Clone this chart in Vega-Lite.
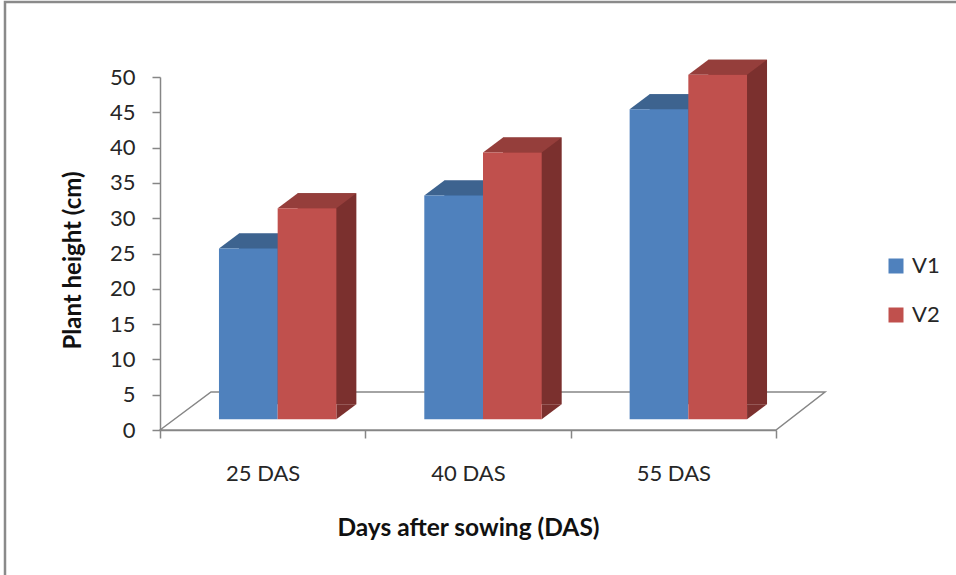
{"$schema":"https://vega.github.io/schema/vega-lite/v6.json","width":616,"height":353,"autosize":"none","padding":{"left":160,"top":77,"right":180,"bottom":145},"background":"white","data":{"values":[{"cat":"25 DAS","series":"V1","value":24.2},{"cat":"25 DAS","series":"V2","value":29.9},{"cat":"40 DAS","series":"V1","value":31.7},{"cat":"40 DAS","series":"V2","value":37.8},{"cat":"55 DAS","series":"V1","value":43.9},{"cat":"55 DAS","series":"V2","value":48.8}]},"config":{"view":{"stroke":null},"font":"Lato"},"encoding":{"x":{"field":"cat","type":"nominal","scale":{"domain":["25 DAS","40 DAS","55 DAS"],"paddingInner":0,"paddingOuter":0},"axis":{"title":"Days after sowing (DAS)","labelAngle":0,"tickBand":"extent","domainColor":"#868686","domainWidth":1.5,"tickColor":"#868686","tickWidth":1.5,"tickSize":8,"labelPadding":25,"labelFontSize":22,"labelColor":"#262626","labelFont":"Lato","titleFont":"Lato","titleFontSize":24.5,"titleFontWeight":"bold","titleColor":"#111111","titlePadding":32,"grid":false}},"y":{"field":"value","type":"quantitative","stack":null,"scale":{"domain":[0,50],"nice":false},"axis":{"title":"Plant height (cm)","titleY":183,"values":[0,5,10,15,20,25,30,35,40,45,50],"domainColor":"#868686","domainWidth":1.5,"tickColor":"#868686","tickWidth":1.5,"tickSize":8,"labelPadding":17,"labelFontSize":22,"labelColor":"#262626","labelFont":"Lato","titleFont":"Lato","titleFontSize":24,"titleFontWeight":"bold","titleColor":"#111111","titlePadding":24,"grid":false}}},"layer":[{"transform":[{"filter":"datum.cat==='25 DAS' && datum.series==='V1'"}],"mark":{"type":"point","size":4,"filled":false,"fill":"transparent","stroke":"#8a8a8a","strokeWidth":2.5,"opacity":1,"shape":"M-257.67,145 L-257.67,-428 L693.33,-428"},"encoding":{"y":{"datum":0}}},{"transform":[{"filter":"datum.cat==='25 DAS' && datum.series==='V1'"}],"mark":{"type":"point","size":4,"filled":false,"fill":"white","stroke":"#868686","strokeWidth":1.5,"opacity":1,"shape":"M-102.67,0 L-51.67,-38 L562.33,-38 L513.33,0 Z"},"encoding":{"y":{"datum":0}}},{"transform":[{"filter":"datum.series==='V1'"}],"mark":{"type":"bar","width":58.7,"xOffset":5.65,"yOffset":-25.7,"y2Offset":-25.7,"color":"#3B618E"},"encoding":{"y2":{"datum":0}}},{"transform":[{"filter":"datum.series==='V2'"}],"mark":{"type":"bar","width":58.7,"xOffset":64.35,"yOffset":-25.7,"y2Offset":-25.7,"color":"#7B302E"},"encoding":{"y2":{"datum":0}}},{"transform":[{"filter":"datum.series==='V2'"}],"mark":{"type":"point","size":4,"filled":true,"opacity":1,"color":"#7B302E","shape":"M73.7,-10.7 L93.7,-25.7 L73.7,-25.7 Z"},"encoding":{"y":{"datum":0}}},{"transform":[{"filter":"datum.series==='V1'"}],"mark":{"type":"point","size":4,"filled":true,"opacity":1,"color":"#3D638F","shape":"M-43.7,-10.7 L15,-10.7 L35,-25.7 L-23.7,-25.7 Z"}},{"transform":[{"filter":"datum.series==='V2'"}],"mark":{"type":"point","size":4,"filled":true,"opacity":1,"color":"#953E3B","shape":"M15,-10.7 L73.7,-10.7 L93.7,-25.7 L35,-25.7 Z"}},{"transform":[{"filter":"datum.series==='V1'"}],"mark":{"type":"bar","width":58.7,"xOffset":-14.35,"yOffset":-10.7,"y2Offset":-10.7},"encoding":{"y2":{"datum":0},"color":{"field":"series","type":"nominal","scale":{"domain":["V1","V2"],"range":["#4F81BD","#C0504D"]},"legend":{"title":null,"orient":"none","legendX":725,"legendY":178,"symbolType":"square","symbolSize":225,"symbolStrokeWidth":0,"symbolOpacity":1,"labelFont":"Lato","labelFontSize":22,"labelColor":"#262626","labelOffset":5,"rowPadding":27}}}},{"transform":[{"filter":"datum.series==='V2'"}],"mark":{"type":"bar","width":58.7,"xOffset":44.35,"yOffset":-10.7,"y2Offset":-10.7},"encoding":{"y2":{"datum":0},"color":{"field":"series","type":"nominal"}}}]}
